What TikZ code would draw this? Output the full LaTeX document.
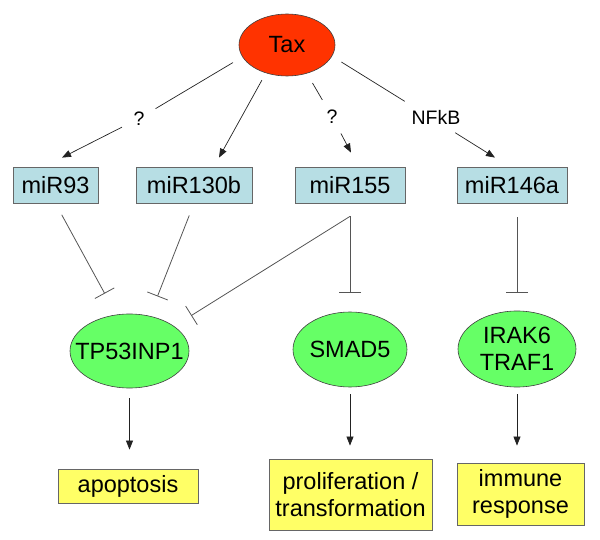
\documentclass[tikz,border=0pt]{standalone}
\usepackage{fontspec}
\setmainfont{Liberation Sans}
\usetikzlibrary{shapes.geometric,arrows.meta}
\definecolor{taxred}{HTML}{FF3300}
\definecolor{mirblue}{HTML}{B7DEE4}
\definecolor{tgreen}{HTML}{66FF66}
\definecolor{pyellow}{HTML}{FFFF66}
\definecolor{edgecol}{HTML}{222222}
\definecolor{inhcol}{HTML}{555555}
\begin{document}
\begin{tikzpicture}[x=1pt,y=-1pt,
 every node/.style={font=\fontsize{23.5}{27}\selectfont, inner sep=0pt},
 oval/.style={ellipse, draw=black!75, line width=0.6pt},
 mirbox/.style={rectangle, draw=black!60, fill=mirblue, minimum height=36pt, line width=0.8pt},
 outbox/.style={rectangle, draw=black!60, fill=pyellow, align=center, line width=0.8pt},
 qlbl/.style={circle, minimum size=38pt, font=\fontsize{19.5}{22}\selectfont},
 elbl/.style={rectangle, minimum width=50pt, minimum height=32pt, font=\fontsize{19.5}{22}\selectfont},
 arr/.style={draw=edgecol, line width=0.7pt, -{Triangle[length=9pt,width=7pt]}},
 link/.style={draw=edgecol, line width=0.7pt},
 inh/.style={draw=inhcol, line width=0.8pt, -{Bar[width=22pt]}}]
\useasboundingbox (0,0) rectangle (600,540);
% nodes
\node[oval, fill=taxred, minimum width=96pt, minimum height=62pt] (tax) at (287,45) {Tax};
\node[mirbox, minimum width=85pt] (mir93) at (55.5,185) {miR93};
\node[mirbox, minimum width=116pt] (mir130b) at (194,185) {miR130b};
\node[mirbox, minimum width=110pt] (mir155) at (350,185) {miR155};
\node[mirbox, minimum width=110pt] (mir146a) at (512,185) {miR146a};
\node[oval, fill=tgreen, minimum width=119pt, minimum height=74pt] (tp53) at (129.5,351) {\makebox[0pt]{TP53INP1}};
\node[oval, fill=tgreen, minimum width=114pt, minimum height=75pt] (smad5) at (350,349.5) {\makebox[0pt]{SMAD5}};
\node[oval, fill=tgreen, minimum width=118pt, minimum height=76pt, align=center] (irak) at (517,349) {\makebox[0pt]{IRAK6}\\\makebox[0pt]{TRAF1}};
\node[outbox, minimum width=140pt, minimum height=34pt] (apop) at (128,486) {apoptosis};
\node[outbox, minimum width=163pt, minimum height=71pt] (prolif) at (350.5,494.5) {proliferation /\\transformation};
\node[outbox, minimum width=127pt, minimum height=62pt] (immune) at (520.5,494) {immune\\response};
% edge labels
\node[qlbl] (q1) at (139,118.5) {?};
\node[qlbl] (q2) at (332,116.5) {?};
\node[elbl] (nfkb) at (430,117) {\makebox[0pt]{\hspace{12pt}NFkB}};
% activation edges
\draw[link, shorten <=11pt] (tax.195) -- (q1);
\draw[arr] (q1) -- ([shift={(6.5,-9)}]mir93.north);
\draw[arr, shorten <=8pt] (tax.233) -- ([shift={(25,-9)}]mir130b.north);
\draw[link, shorten <=11pt] (tax.305) -- (q2);
\draw[arr] (q2) -- ([shift={(1,-14)}]mir155.north);
\draw[link, shorten <=11pt] (tax.346) -- (nfkb);
\draw[arr] (nfkb) -- ([shift={(-17,-9)}]mir146a.north);
% inhibition edges
\coordinate (j155) at ([yshift=-13pt]mir155.south);
\draw[inh, shorten <=13pt, shorten >=24pt] (mir93.south) -- (tp53.110);
\draw[inh, shorten <=13pt, shorten >=21pt] (mir130b.south) -- (tp53.60);
\draw[inh, shorten >=20pt] (j155) -- (tp53.29);
\draw[inh, shorten >=19pt] (j155) -- (smad5.north);
\draw[inh, shorten <=14pt, shorten >=18pt] (irak.north |- mir146a.south) -- (irak.north);
% outcome edges
\draw[arr, shorten <=10pt, shorten >=19pt] (tp53.south) -- (tp53.south |- apop.north);
\draw[arr, shorten <=7pt, shorten >=13pt] (smad5.south) -- (smad5.south |- prolif.north);
\draw[arr, shorten <=7pt, shorten >=17pt] (irak.south) -- (irak.south |- immune.north);
\end{tikzpicture}
\end{document}
